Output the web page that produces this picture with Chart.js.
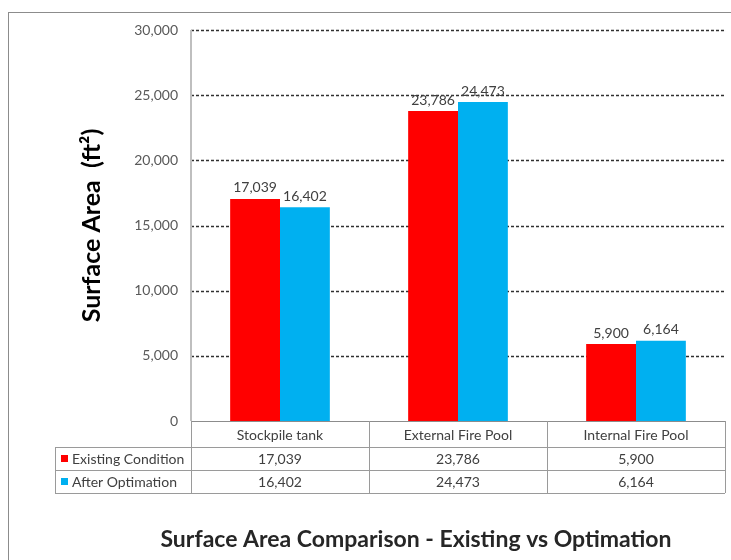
<!DOCTYPE html>
<html>
<head>
<meta charset="utf-8">
<script src="https://cdn.jsdelivr.net/npm/chart.js@4"></script>
<style>
  html, body { margin: 0; padding: 0; background: #ffffff; }
  #wrap { width: 731px; height: 560px; position: relative; }
</style>
</head>
<body>
<div id="wrap"><canvas id="chart"></canvas></div>
<script>
// Surface areas (ft²) before and after optimisation
const categories = ['Stockpile tank', 'External Fire Pool', 'Internal Fire Pool'];
const existingCondition = [17039, 23786, 5900];
const afterOptimation = [16402, 24473, 6164];
const seriesNames = ['Existing Condition', 'After Optimation'];
const yTicks = [0, 5000, 10000, 15000, 20000, 25000, 30000];
const chartTitle = 'Surface Area Comparison - Existing vs Optimation';

const RED = '#ff0000';
const BLUE = '#00b0f0';
const FONT = 'Lato, "Liberation Sans", sans-serif';
const fmt = v => v.toLocaleString('en-US');

// Outer frame of the chart object
const framePlugin = {
  id: 'frame',
  beforeDraw(chart) {
    const ctx = chart.ctx;
    ctx.save();
    ctx.strokeStyle = '#8c8c8c';
    ctx.lineWidth = 1;
    ctx.strokeRect(8.5, 12.5, 760, 600);
    ctx.restore();
  }
};

// Dashed value grid lines, solid baseline
const gridPlugin = {
  id: 'valueGrid',
  beforeDatasetsDraw(chart) {
    const {ctx, chartArea, scales: {y}} = chart;
    ctx.save();
    yTicks.forEach(v => {
      const py = Math.round(y.getPixelForValue(v)) + 0.5;
      ctx.beginPath();
      if (v === 0) {
        ctx.setLineDash([]);
        ctx.strokeStyle = '#8c8c8c';
        ctx.lineWidth = 1;
      } else {
        ctx.setLineDash([3, 2]);
        ctx.strokeStyle = '#303030';
        ctx.lineWidth = 1.5;
      }
      ctx.moveTo(chartArea.left, py);
      ctx.lineTo(chartArea.right, py);
      ctx.stroke();
    });
    // vertical value axis
    ctx.setLineDash([]);
    ctx.strokeStyle = '#bfbfbf';
    ctx.lineWidth = 2;
    ctx.beginPath();
    ctx.moveTo(chartArea.left, chartArea.top);
    ctx.lineTo(chartArea.left, chartArea.bottom);
    ctx.stroke();
    ctx.restore();
  }
};

// Value labels above each bar
const labelPlugin = {
  id: 'barLabels',
  afterDatasetsDraw(chart) {
    const ctx = chart.ctx;
    ctx.save();
    ctx.font = '14px ' + FONT;
    ctx.fillStyle = '#404040';
    ctx.textAlign = 'center';
    ctx.textBaseline = 'bottom';
    chart.data.datasets.forEach((ds, di) => {
      chart.getDatasetMeta(di).data.forEach((bar, i) => {
        ctx.fillText(fmt(ds.data[i]), bar.x, bar.y - 4);
      });
    });
    ctx.restore();
  }
};

// Data table under the category axis, plus the chart title below it
const tablePlugin = {
  id: 'dataTable',
  afterDraw(chart) {
    const {ctx, chartArea, scales: {x}} = chart;
    const colW = (chartArea.right - chartArea.left) / categories.length;
    const top = chartArea.bottom;
    const headerH = 26, rowH = 23;
    const labelLeft = 55;
    const r1 = top + headerH, r2 = r1 + rowH, r3 = r2 + rowH;
    ctx.save();
    ctx.strokeStyle = '#9a9a9a';
    ctx.lineWidth = 1;
    ctx.setLineDash([]);
    ctx.beginPath();
    // column dividers
    for (let i = 0; i <= categories.length; i++) {
      const px = Math.round(chartArea.left + i * colW) + 0.5;
      ctx.moveTo(px, top);
      ctx.lineTo(px, r3);
    }
    // row lines
    [r1, r2, r3].forEach(ry => {
      ctx.moveTo(labelLeft, ry + 0.5);
      ctx.lineTo(chartArea.right, ry + 0.5);
    });
    ctx.moveTo(labelLeft + 0.5, r1);
    ctx.lineTo(labelLeft + 0.5, r3);
    ctx.stroke();

    const rows = [existingCondition, afterOptimation];
    const colors = [RED, BLUE];
    ctx.font = '14px ' + FONT;
    ctx.textBaseline = 'middle';
    rows.forEach((vals, ri) => {
      const cy = r1 + ri * rowH + rowH / 2 + 0.5;
      ctx.fillStyle = colors[ri];
      ctx.fillRect(labelLeft + 6, cy - 4, 7, 7);
      ctx.fillStyle = '#404040';
      ctx.textAlign = 'left';
      ctx.fillText(seriesNames[ri], labelLeft + 17, cy);
      ctx.textAlign = 'center';
      vals.forEach((v, ci) => {
        ctx.fillText(fmt(v), x.getPixelForValue(ci), cy);
      });
    });

    // chart title
    ctx.font = 'bold 23px ' + FONT;
    ctx.fillStyle = '#262626';
    ctx.textAlign = 'center';
    ctx.textBaseline = 'middle';
    ctx.fillText(chartTitle, 416, 540);
    ctx.restore();
  }
};

new Chart(document.getElementById('chart'), {
  type: 'bar',
  data: {
    labels: categories,
    datasets: [
      { label: seriesNames[0], data: existingCondition, backgroundColor: RED },
      { label: seriesNames[1], data: afterOptimation, backgroundColor: BLUE }
    ]
  },
  options: {
    responsive: true,
    maintainAspectRatio: false,
    animation: false,
    layout: { padding: { left: 0, top: 30, right: 6, bottom: 59 } },
    datasets: { bar: { barPercentage: 1, categoryPercentage: 0.56 } },
    plugins: {
      legend: { display: false },
      tooltip: { enabled: false },
      title: { display: false }
    },
    scales: {
      x: {
        grid: { display: false, drawTicks: false },
        border: { display: false },
        ticks: {
          padding: 6,
          color: '#404040',
          font: { family: FONT, size: 14 },
          maxRotation: 0
        },
        afterFit(scale) { scale.height = 80; }
      },
      y: {
        min: 0,
        max: 30000,
        grid: { display: false, drawTicks: false },
        border: { display: false },
        afterBuildTicks(scale) { scale.ticks = yTicks.map(v => ({ value: v })); },
        ticks: {
          padding: 13,
          color: '#595959',
          font: { family: FONT, size: 14 },
          callback: v => fmt(v)
        },
        title: {
          display: true,
          text: 'Surface Area  (ft²)',
          color: '#000000',
          font: { family: FONT, size: 25, weight: 'bold' },
          padding: { top: 77, bottom: 0 }
        },
        afterFit(scale) { scale.width = 191; }
      }
    }
  },
  plugins: [framePlugin, gridPlugin, labelPlugin, tablePlugin]
});
</script>
</body>
</html>
